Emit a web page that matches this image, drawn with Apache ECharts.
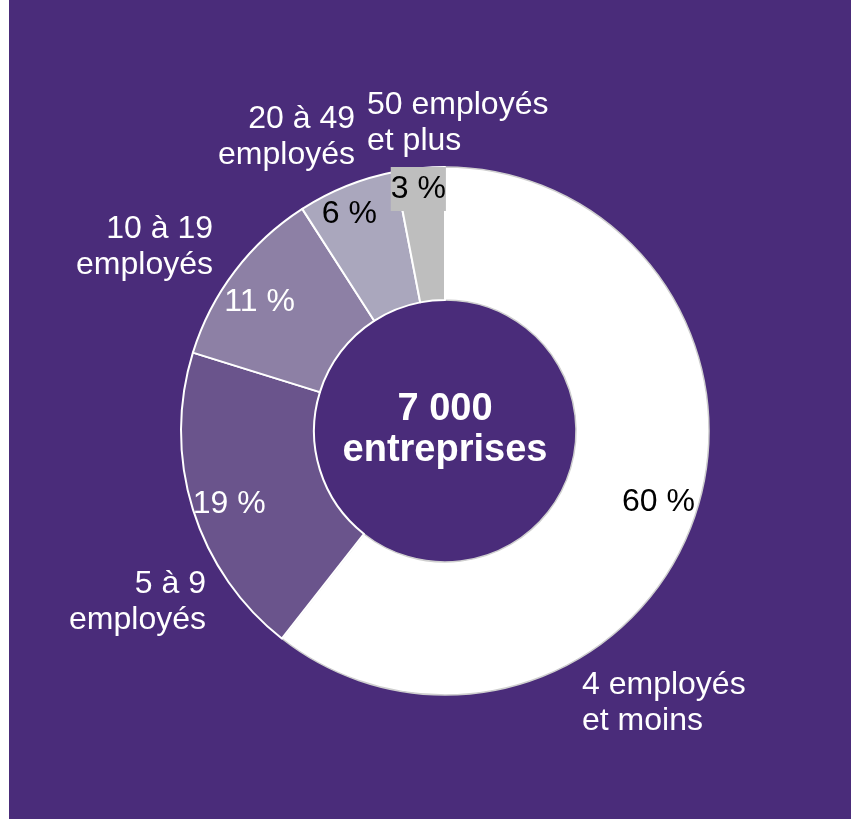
<!DOCTYPE html>
<html lang="fr">
<head>
<meta charset="utf-8">
<title>Entreprises selon la taille</title>
<script src="https://cdn.jsdelivr.net/npm/echarts@6/dist/echarts.min.js"></script>
<style>
  html, body { margin: 0; padding: 0; background: #ffffff; }
  #chart { width: 851px; height: 819px; }
</style>
</head>
<body>
<div id="chart"></div>
<script>
// Répartition des entreprises selon le nombre d'employés
const categories = [
  '4 employés\net moins',
  '5 à 9\nemployés',
  '10 à 19\nemployés',
  '20 à 49\nemployés',
  '50 employés\net plus'
];
const shares = [60, 19, 11, 6, 3];
const totalLabel = '7 000\nentreprises';

const sliceColors = ['#ffffff', '#6a548c', '#8d80a5', '#aaa7bd', '#bebebe'];
const pctColors = ['#000000', '#ffffff', '#ffffff', '#000000', '#000000'];

const FONT = '"Liberation Sans", Arial, Helvetica, sans-serif';
const CX = 445, CY = 431;

// anchor of each category name, around the ring
const nameAnchors = [
  { x: 582, y: 703, align: 'left' },
  { x: 206, y: 602, align: 'right' },
  { x: 213, y: 247, align: 'right' },
  { x: 355, y: 137, align: 'right' },
  { x: 367, y: 123, align: 'left' }
];
// small nudges for the percentage labels of the thin slices
const pctNudges = [[-2, -3], [2, 5], [-4, 9], [-11, -5], [-5, -15]];

const chart = echarts.init(document.getElementById('chart'), null, { renderer: 'canvas' });

const option = {
  backgroundColor: '#4a2c7a',
  animation: false,
  tooltip: { show: false },
  graphic: [
    { type: 'rect', left: 0, top: 0, shape: { width: 9, height: 819 }, style: { fill: '#ffffff' }, silent: true },
    {
      type: 'text', x: CX, y: CY - 1, z: 100, silent: true,
      style: {
        text: totalLabel, fill: '#ffffff', align: 'center', verticalAlign: 'middle',
        font: 'bold 38px ' + FONT, lineHeight: 41
      }
    }
  ],
  series: [
    {
      // the ring itself, carrying the category names
      type: 'pie',
      center: [CX, CY],
      radius: [131, 264],
      startAngle: 90,
      clockwise: true,
      avoidLabelOverlap: false,
      silent: true,
      itemStyle: { borderColor: '#ffffff', borderWidth: 2 },
      label: {
        show: true, position: 'outside', color: '#ffffff',
        fontFamily: FONT, fontSize: 32, lineHeight: 36,
        formatter: p => p.name
      },
      labelLine: { show: false },
      labelLayout: p => {
        const a = nameAnchors[p.dataIndex];
        return { x: a.x, y: a.y, align: a.align, verticalAlign: 'middle' };
      },
      emphasis: { disabled: true },
      data: categories.map((name, i) => ({
        name, value: shares[i],
        itemStyle: i === 0
          ? { color: sliceColors[i], borderColor: '#cfcfcf', borderWidth: 1.5 }
          : { color: sliceColors[i] }
      }))
    },
    {
      // transparent copy of the ring, carrying the percentages
      type: 'pie',
      center: [CX, CY],
      radius: [186, 264],
      startAngle: 90,
      clockwise: true,
      avoidLabelOverlap: false,
      silent: true,
      z: 3,
      itemStyle: { color: 'rgba(0,0,0,0)', borderWidth: 0 },
      label: {
        show: true, position: 'inside',
        fontFamily: FONT, fontSize: 32,
        formatter: p => p.value + ' %'
      },
      labelLine: { show: false },
      labelLayout: p => {
        const n = pctNudges[p.dataIndex];
        return { dx: n[0], dy: n[1] };
      },
      emphasis: { disabled: true },
      data: categories.map((name, i) => ({
        name, value: shares[i],
        label: i === 4
          ? { color: pctColors[i], backgroundColor: '#bebebe', padding: [4, 0, 8, 0] }
          : { color: pctColors[i] }
      }))
    }
  ]
};

chart.setOption(option);
</script>
</body>
</html>
